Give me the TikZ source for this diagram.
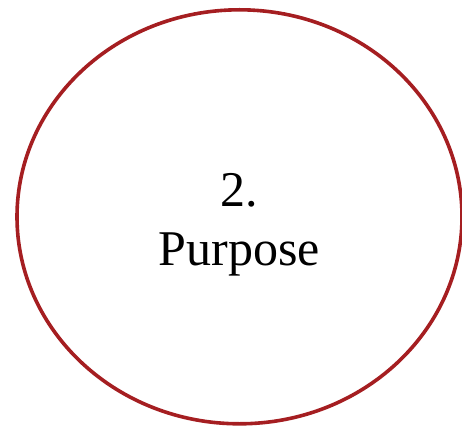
\documentclass[tikz,border=0pt]{standalone}
\usepackage{fontspec}
\setmainfont{Liberation Serif}
\usetikzlibrary{shapes.geometric}
\definecolor{purposered}{RGB}{165,30,33}

\begin{document}
\begin{tikzpicture}
  [
  x=1pt, y=1pt, line width=3.6pt,
  bubble/.style={ellipse, draw=purposered, minimum width=445pt, minimum height=414pt, inner sep=0pt},
  bigtext/.style={font=\fontsize{50}{59}\selectfont, align=center, inner sep=0pt}
  ]

\clip (0,0) rectangle (462,426);

\node[bubble] (purpose) at (239.5,209.2) {};
\node[bigtext, anchor=base] (title) at (239.5,161) {2.\\Purpose};

\end{tikzpicture}
\end{document}
